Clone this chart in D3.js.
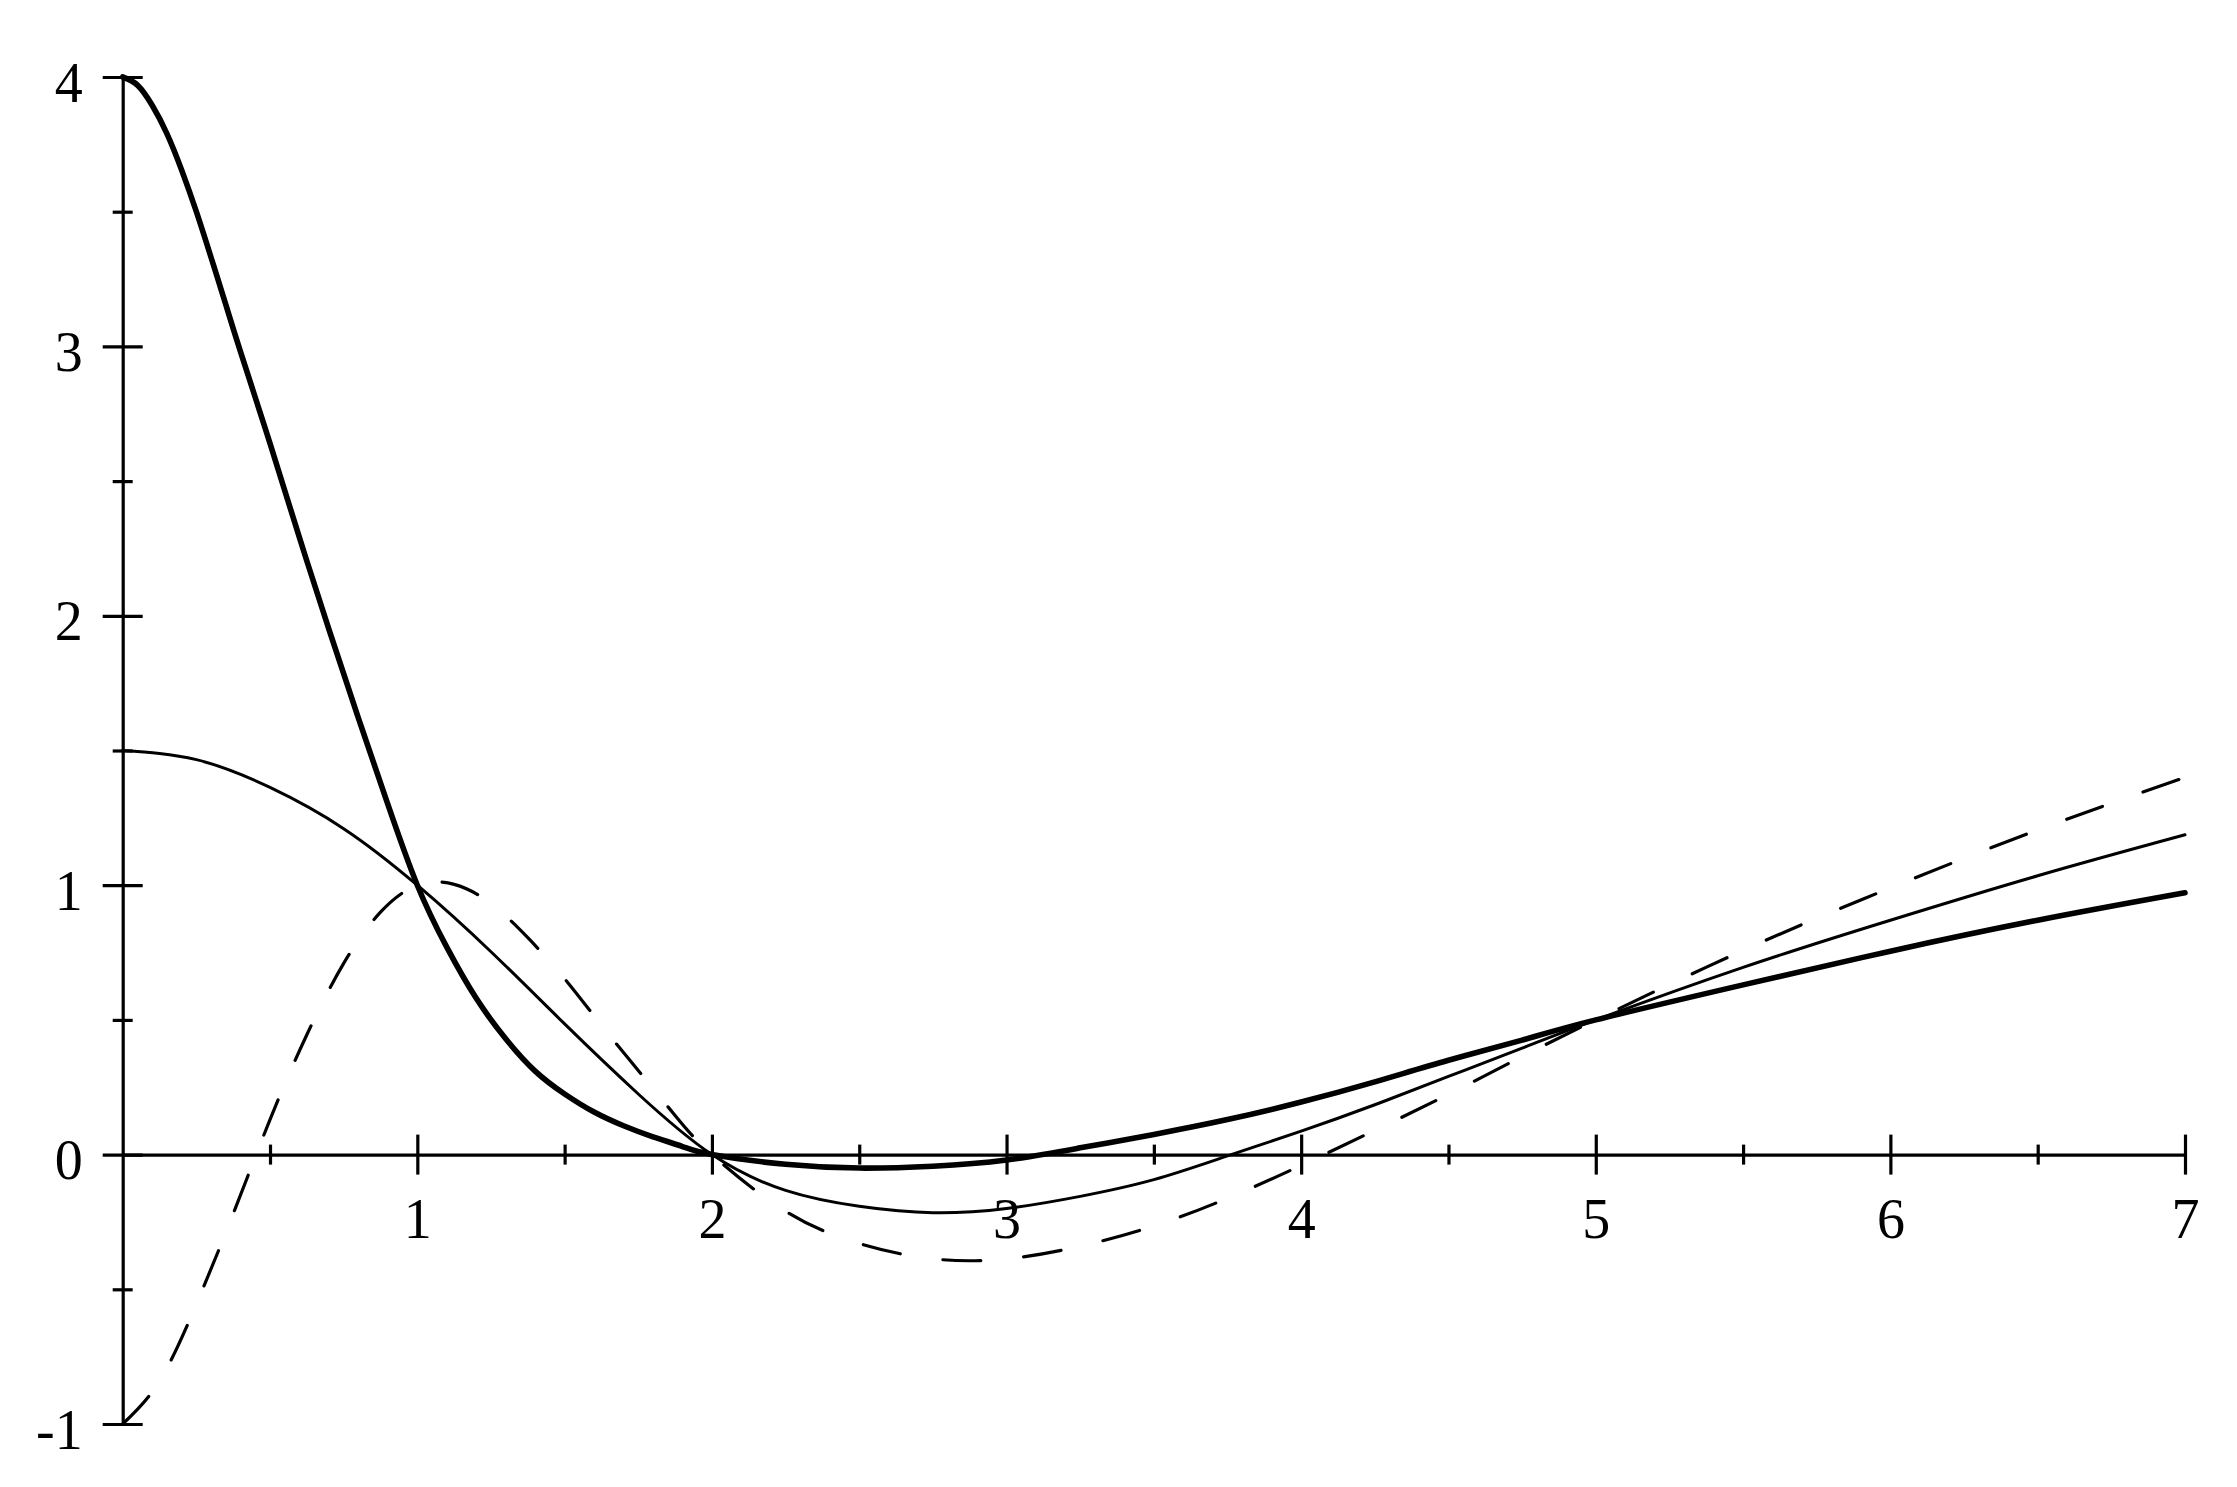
<!DOCTYPE html>
<html>
<head>
<meta charset="utf-8">
<script src="https://cdn.jsdelivr.net/npm/d3@7"></script>
<style>
  body { margin: 0; background: #fff; }
  svg { display: block; }
</style>
</head>
<body>
<div id="chart"></div>
<script>

		// values
		var xMajorTicks = [1, 2, 3, 4, 5, 6, 7];
		var xMinorTicks = [0.5, 1.5, 2.5, 3.5, 4.5, 5.5, 6.5];
		var yMajorTicks = [-1, 0, 1, 2, 3, 4];
		var yMinorTicks = [-0.5, 0.5, 1.5, 2.5, 3.5];
		var xTickLabels = ["1", "2", "3", "4", "5", "6", "7"];
		var yTickLabels = ["-1", "0", "1", "2", "3", "4"];

		// thick curve
		var thickX = [0, 0.05, 0.1, 0.15, 0.2, 0.25, 0.3, 0.35, 0.4, 0.5, 0.6, 0.7, 0.8, 0.9, 1.0, 1.1, 1.2, 1.3, 1.4, 1.5, 1.6, 1.7, 1.8, 1.9, 2.0,
		              2.25, 2.5, 2.75, 3.0, 3.25, 3.5, 3.75, 4.0, 4.25, 4.5, 4.75, 5.0, 5.5, 6.0, 6.5, 7.0];
		var thickY = [4.00, 3.97, 3.895, 3.79, 3.655, 3.50, 3.33, 3.155, 2.98, 2.64, 2.29, 1.95, 1.62, 1.30, 1.00, 0.77, 0.58, 0.43, 0.31, 0.225, 0.158, 0.107, 0.066, 0.03, 0,
		              -0.036, -0.05, -0.043, -0.02, 0.025, 0.075, 0.13, 0.195, 0.27, 0.35, 0.425, 0.50, 0.63, 0.755, 0.87, 0.972];

		// thin curve
		var thinX = [0, 0.25, 0.5, 0.75, 1.0, 1.25, 1.5, 1.75, 2.0, 2.25, 2.5, 2.75, 3.0, 3.25, 3.5, 3.75,
		             4.0, 4.25, 4.5, 4.75, 5.0, 5.5, 6.0, 6.5, 7.0];
		var thinY = [1.50, 1.466, 1.363, 1.21, 1.00, 0.753, 0.485, 0.225, 0, -0.133, -0.192, -0.216, -0.20, -0.155, -0.093, -0.005,
		             0.087, 0.185, 0.29, 0.395, 0.50, 0.695, 0.87, 1.035, 1.187];

		// dashed curve
		var dashX = [0, 0.125, 0.25, 0.375, 0.5, 0.625, 0.75, 0.875, 1.0, 1.125, 1.25, 1.375, 1.5, 1.625, 1.75, 1.875, 2.0,
		             2.25, 2.5, 2.75, 3.0, 3.25, 3.5, 3.75, 4.0, 4.25, 4.5, 4.75, 5.0, 5.5, 6.0, 6.5, 7.0];
		var dashY = [-1.0, -0.84, -0.555, -0.22, 0.13, 0.445, 0.71, 0.90, 1.0, 1.003, 0.932, 0.805, 0.653, 0.48, 0.312, 0.145, 0,
		             -0.21, -0.33, -0.387, -0.387, -0.34, -0.265, -0.162, -0.04, 0.09, 0.224, 0.364, 0.50, 0.758, 0.99, 1.205, 1.40];

		//the size of the graph
		var width = 2237,
			height = 1487;

		var x = d3.scaleLinear()
					.domain([0, 7])
					.range([122.7, 2185]);

		var y = d3.scaleLinear()
					.domain([-1, 4])
					.range([1424, 77]);

		var svg = d3.select('#chart')
			.append('svg')
			  .attr("width", width)
			  .attr("height", height);

		var font = "'Liberation Serif', 'Times New Roman', serif";
		var axisWidth = 3.2;

		// x axis
		var xAxis = svg.append("g")
			.attr("transform", "translate(0," + y(0) + ")")
			.call(d3.axisBottom(x)
				.tickValues(xMinorTicks.concat(xMajorTicks))
				.tickSizeOuter(0)
				.tickSize(0)
				.tickFormat(function(d) {
					var i = xMajorTicks.indexOf(d);
					return i < 0 ? "" : xTickLabels[i];
				}));

		xAxis.attr("font-family", font);
		xAxis.select(".domain").attr("stroke-width", axisWidth);
		xAxis.selectAll(".tick line")
			.attr("stroke-width", axisWidth)
			.attr("y1", function(d) { return xMajorTicks.indexOf(d) < 0 ? -10 : -20; })
			.attr("y2", function(d) { return xMajorTicks.indexOf(d) < 0 ? 10 : 20; });
		xAxis.selectAll(".tick text")
			.attr("y", 83)
			.attr("dy", 0)
			.style("font-family", font)
			.style("font-size", "56px")
			.attr("fill", "#000");

		// y axis
		var yAxis = svg.append("g")
			.attr("transform", "translate(" + x(0) + ",0)")
			.call(d3.axisLeft(y)
				.tickValues(yMinorTicks.concat(yMajorTicks))
				.tickSizeOuter(0)
				.tickSize(0)
				.tickFormat(function(d) {
					var i = yMajorTicks.indexOf(d);
					return i < 0 ? "" : yTickLabels[i];
				}));

		yAxis.attr("font-family", font);
		yAxis.select(".domain").attr("stroke-width", axisWidth);
		yAxis.selectAll(".tick line")
			.attr("stroke-width", axisWidth)
			.attr("x1", function(d) { return yMajorTicks.indexOf(d) < 0 ? -10 : -20; })
			.attr("x2", function(d) { return yMajorTicks.indexOf(d) < 0 ? 10 : 20; });
		yAxis.selectAll(".tick text")
			.attr("x", -40)
			.attr("y", 24)
			.attr("dy", 0)
			.style("font-family", font)
			.style("font-size", "56px")
			.attr("fill", "#000");

		// curves
		var line = d3.line()
					.x(function(d) { return x(d[0]); })
					.y(function(d) { return y(d[1]); })
					.curve(d3.curveNatural);

		function zipXY(xs, ys) {
			return xs.map(function(v, i) { return [v, ys[i]]; });
		}

		svg.append("path")
			.datum(zipXY(dashX, dashY))
			.attr("d", line)
			.style("fill", "none")
			.style("stroke", "#000")
			.style("stroke-width", 3.2)
			.style("stroke-linecap", "round")
			.style("stroke-dasharray", "38,43");

		svg.append("path")
			.datum(zipXY(thinX, thinY))
			.attr("d", line)
			.style("fill", "none")
			.style("stroke", "#000")
			.style("stroke-width", 3)
			.style("stroke-linecap", "round");

		svg.append("path")
			.datum(zipXY(thickX, thickY))
			.attr("d", line)
			.style("fill", "none")
			.style("stroke", "#000")
			.style("stroke-width", 5.6)
			.style("stroke-linecap", "round")
			.style("stroke-linejoin", "round");

</script>
</body>
</html>
